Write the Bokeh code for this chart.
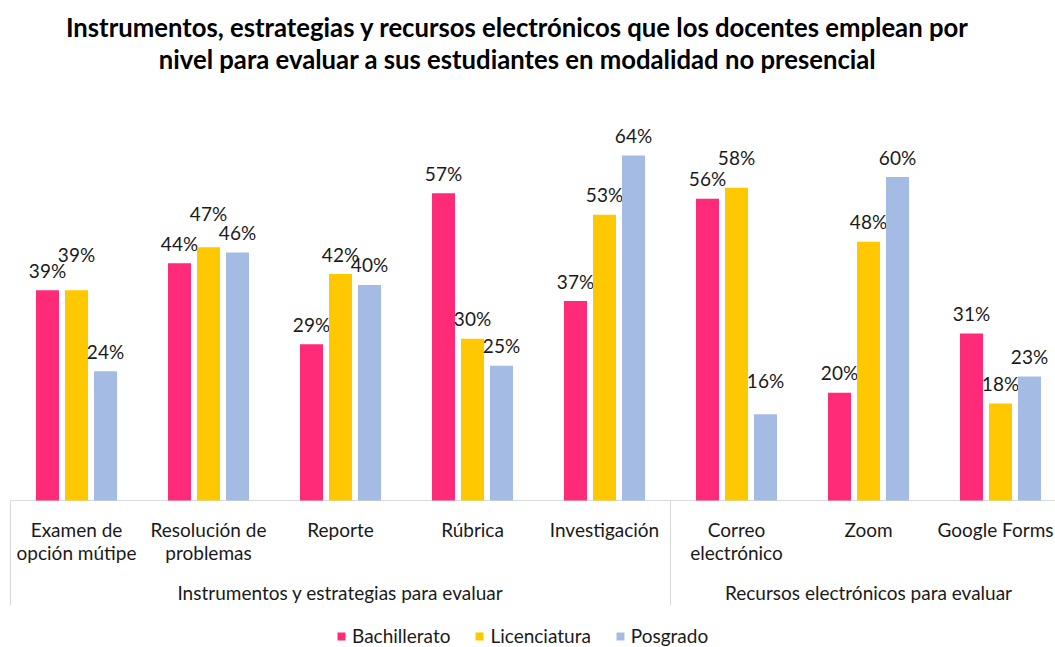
from bokeh.plotting import figure
from bokeh.models import ColumnDataSource, Legend, LegendItem, Range1d
from bokeh.core.properties import value
from bokeh.embed import file_html
from bokeh.resources import INLINE

# ---------------- data ----------------
title_lines = [
    "Instrumentos, estrategias y recursos electrónicos que los docentes emplean por",
    "nivel para evaluar a sus estudiantes en modalidad no presencial",
]
categories = ["Examen de\nopción mútipe", "Resolución de\nproblemas", "Reporte", "Rúbrica",
              "Investigación", "Correo\nelectrónico", "Zoom", "Google Forms"]
groups = ["Instrumentos y estrategias para evaluar", "Recursos electrónicos para evaluar"]
group_sizes = [5, 3]
series = ["Bachillerato", "Licenciatura", "Posgrado"]
bachillerato = [39, 44, 29, 57, 37, 56, 20, 31]
licenciatura = [39, 47, 42, 30, 53, 58, 48, 18]
posgrado = [24, 46, 40, 25, 64, 16, 60, 23]

# ---------------- style ----------------
colors = ["#FF2B78", "#FFC800", "#A4BCE4"]
label_raise = [[0] * 8,
               [16, 14, 0, 0, 0, 10, 0, 0],
               [0, 0, 0, 0, 0, 14, 0, 0]]
cat_nudge = [0, 0, 0, 0, 0, 0, 0, -5]
FONT = "Lato"
FS = "19px"
TXT = "#1a1a1a"
GRID = "#d9d9d9"

W, H = 1055, 647
PX_X = 132.0          # px per category
PX_Y = 345.0 / 64.0   # px per percent
LEFT = 10             # px of category 0 left edge
BASE = 500            # px (from top) of value 0


def ypx(py):  # picture y -> data y
    return (BASE - py) / PX_Y


def xpx(px):
    return (px - LEFT) / PX_X


p = figure(width=W, height=H, output_backend="svg", toolbar_location=None,
           x_axis_type=None, y_axis_type=None, min_border=0,
           x_range=Range1d(-LEFT / PX_X, (W - LEFT) / PX_X),
           y_range=Range1d(-(H - BASE) / PX_Y, BASE / PX_Y))
p.outline_line_color = None
p.xgrid.visible = False
p.ygrid.visible = False

# axis line and group separators
n = len(categories)
p.segment(x0=[0], y0=[0], x1=[n], y1=[0], line_color=GRID, line_width=1.2)
seps = [0]
for s in group_sizes:
    seps.append(seps[-1] + s)
p.segment(x0=seps, y0=[0] * len(seps), x1=seps, y1=[ypx(605)] * len(seps),
          line_color=GRID, line_width=1.2)

# bars
offsets = [-29 / PX_X, 0, 29 / PX_X]
bw = 23 / PX_X
renderers = []
for k, (name, vals) in enumerate(zip(series, [bachillerato, licenciatura, posgrado])):
    src = ColumnDataSource(dict(
        x=[i + 0.5 + offsets[k] for i in range(n)],
        top=vals,
        lab=[f"{v}%" for v in vals],
        yo=[-(20 + r) for r in label_raise[k]],
    ))
    r = p.vbar(x="x", top="top", width=bw, source=src, fill_color=colors[k], line_color=None)
    renderers.append(r)
    p.text(x="x", y="top", text="lab", y_offset="yo", source=src, text_align="center",
           text_baseline="middle", text_font=value(FONT), text_font_size=FS, text_color=TXT)

# category labels
cx, cy, ct, co = [], [], [], []
for i, c in enumerate(categories):
    for j, line in enumerate(c.split("\n")):
        cx.append(i + 0.5)
        cy.append(ypx(529 + 23 * j))
        ct.append(line)
        co.append(cat_nudge[i])
p.text(x=cx, y=cy, text=ct, x_offset=co, text_align="center", text_baseline="middle",
       text_font=value(FONT), text_font_size=FS, text_color=TXT)

# group labels
gx = [(seps[i] + seps[i + 1]) / 2 for i in range(len(groups))]
p.text(x=gx, y=[ypx(592)] * len(groups), text=groups, text_align="center", text_baseline="middle",
       text_font=value(FONT), text_font_size=FS, text_color=TXT)

# title
p.text(x=[xpx(517)] * 2, y=[ypx(26), ypx(58)], text=title_lines, text_align="center",
       text_baseline="middle", text_font=value(FONT), text_font_size="25.7px",
       text_font_style="bold", text_color="#000000")

legend = Legend(items=[LegendItem(label=s, renderers=[r]) for s, r in zip(series, renderers)],
                orientation="horizontal", location=(336, 0), glyph_width=10, glyph_height=10,
                label_standoff=6, spacing=24, padding=0, margin=0, label_width=10,
                border_line_color=None, background_fill_alpha=0,
                label_text_font=FONT, label_text_font_size=FS, label_text_color=TXT)
p.add_layout(legend)

open("out.html", "w").write(file_html(p, INLINE))
